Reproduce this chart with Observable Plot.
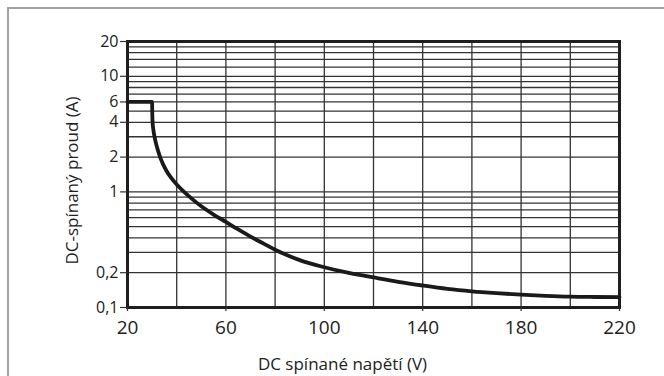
<!DOCTYPE html>
<html>
<head>
<meta charset="utf-8">
<script src="https://cdn.jsdelivr.net/npm/d3@7"></script>
<script src="https://cdn.jsdelivr.net/npm/@observablehq/plot@0.6"></script>
<style>
  html, body { margin: 0; padding: 0; background: #fff; width: 664px; height: 376px; overflow: hidden; }
  #wrap { position: relative; width: 664px; height: 376px; }
  #border { position: absolute; left: 7px; top: 7px; width: 680px; height: 400px; border: 2px solid #a3a3a3; box-sizing: border-box; }
  #chart { position: absolute; left: 0; top: 0; }
</style>
</head>
<body>
<div id="wrap"><div id="border"></div><div id="chart"></div></div>
<script>
// Data
const volts = [20, 30, 30.05, 30.2, 30.5, 31, 32, 33.4, 35.7, 38, 40, 43, 46, 50, 55, 60, 65, 70, 75, 80, 90, 100, 110, 120, 130, 140, 150, 160, 170, 180, 190, 200, 210, 220];
const amps  = [6, 6, 5, 4, 3.47, 2.99, 2.43, 1.96, 1.54, 1.3, 1.16, 1.0, 0.879, 0.75, 0.637, 0.55, 0.473, 0.41, 0.36, 0.316, 0.257, 0.223, 0.199, 0.182, 0.167, 0.155, 0.145, 0.138, 0.133, 0.129, 0.126, 0.124, 0.1233, 0.123];

const xTicks = [20, 60, 100, 140, 180, 220];
const xGrid = [40, 60, 80, 100, 120, 140, 160, 180, 200];
const yTicks = [0.1, 0.2, 1, 2, 4, 6, 10, 20];
const yGrid = [0.2, 0.3, 0.4, 0.5, 0.6, 0.7, 0.8, 0.9, 1, 2, 3, 4, 5, 6, 7, 8, 9, 10, 12, 14, 16, 18];

const xTitle = "DC spínané napětí (V)";
const yTitle = "DC-spínaný proud (A)";

const data = volts.map((v, i) => ({v, a: amps[i]}));
const fmt = d => String(d).replace(".", ",");

const chart = Plot.plot({
  width: 664,
  height: 376,
  marginLeft: 127,
  marginRight: 45,
  marginTop: 41,
  marginBottom: 69,
  x: {domain: [20, 220]},
  y: {type: "log", domain: [0.1, 20]},
  style: {fontFamily: "'Open Sans', sans-serif", background: "transparent", color: "#222"},
  marks: [
    Plot.ruleX(xGrid, {stroke: "#333", strokeWidth: 1.3}),
    Plot.ruleY(yGrid, {stroke: "#333", strokeWidth: 1.3}),
    Plot.frame({stroke: "#1e1e1e", strokeWidth: 3}),
    Plot.axisX(xTicks, {tickSize: 4, tickPadding: 9, fontSize: 19, label: null, stroke: "#333", strokeWidth: 1.2}),
    Plot.axisY(yTicks, {tickSize: 7, tickPadding: 2, fontSize: 16, label: null, stroke: "#333", strokeWidth: 1.2,
      text: fmt}),
    Plot.line(data, {x: "v", y: "a", stroke: "#1a1a1a", strokeWidth: 3.8, curve: "monotone-x"}),
    Plot.text([xTitle], {frameAnchor: "bottom", dx: -31, dy: 62, fontSize: 17, fill: "#222"}),
    Plot.text([yTitle], {frameAnchor: "left", textAnchor: "middle", rotate: -90, dx: -55, dy: 6, fontSize: 17, fill: "#222"})
  ]
});
document.getElementById("chart").appendChild(chart);
</script>
</body>
</html>
